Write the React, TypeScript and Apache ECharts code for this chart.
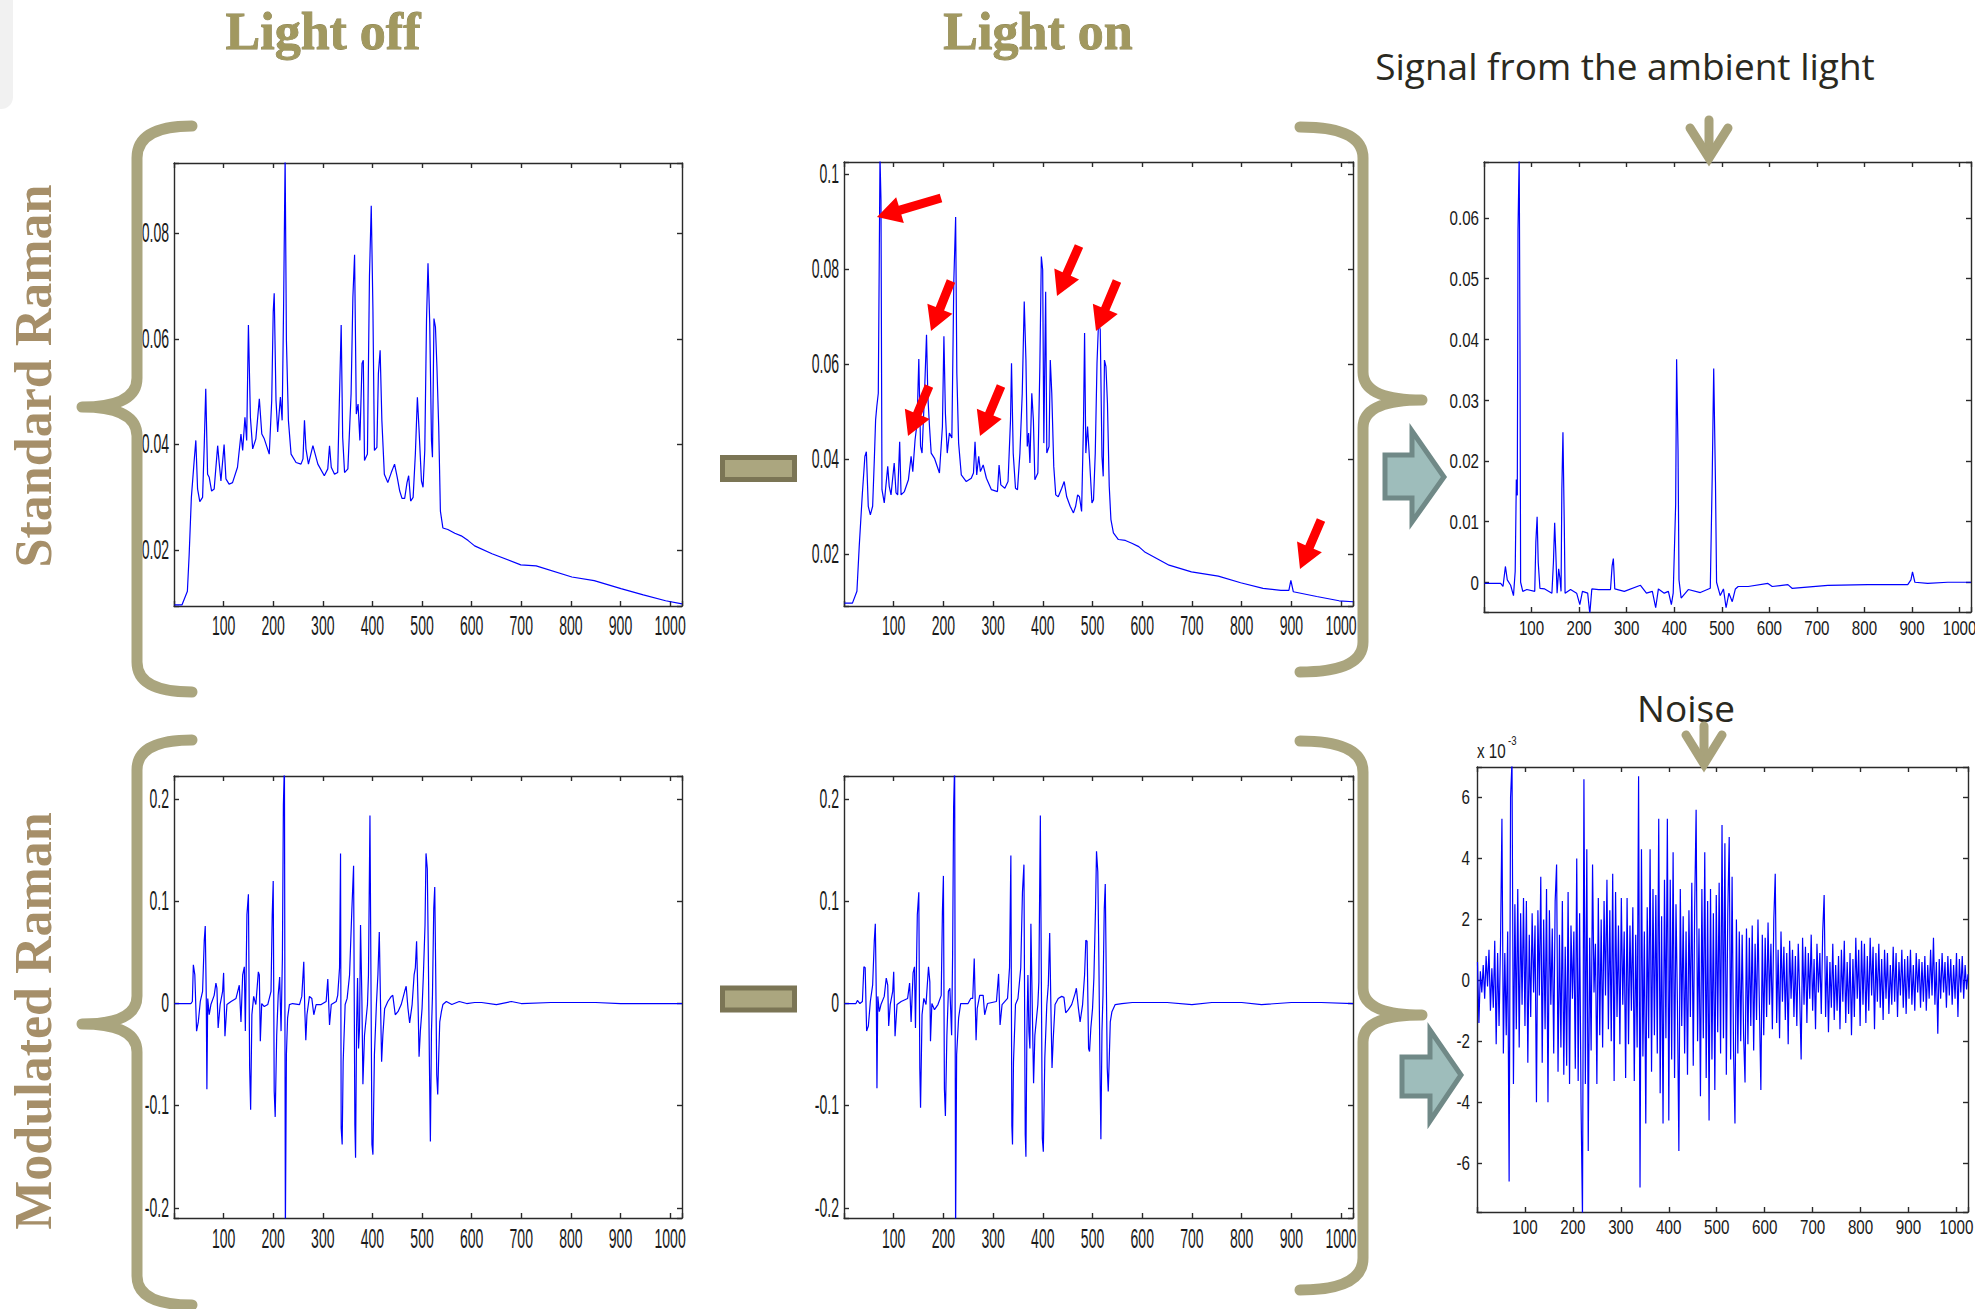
import React, { useEffect, useRef } from "react";
import * as echarts from "echarts";

// ---------------- DATA ----------------
const xTickInterval = 100;
const xMax = 1024;
const xTickLabels = [100, 200, 300, 400, 500, 600, 700, 800, 900, 1000];
const yTickLabels: number[][] = [
  [0.02, 0.04, 0.06, 0.08],
  [0.02, 0.04, 0.06, 0.08, 0.1],
  [0, 0.01, 0.02, 0.03, 0.04, 0.05, 0.06],
  [-0.2, -0.1, 0, 0.1, 0.2],
  [-0.2, -0.1, 0, 0.1, 0.2],
  [-6, -4, -2, 0, 2, 4, 6],
];

const lightOffStd: number[][] = [
  [1,0.0096],[16,0.0096],[27,0.0122],[30.6,0.0192],[35,0.030],[40.7,0.037],[44,0.0408],[47.5,0.0316],[52,0.0292],[57.6,0.030],
  [61,0.040],[64,0.0506],[67.7,0.0344],[71,0.0338],[75.8,0.0312],[81,0.0316],[88,0.0398],[91,0.0366],[94.6,0.0331],[101,0.040],
  [104.7,0.0335],[111,0.0325],[118,0.0328],[128,0.0357],[135,0.042],[138.4,0.0389],[143,0.0452],[146.5,0.0408],[150,0.0627],[154,0.0452],
  [158.6,0.0392],[165,0.0411],[172,0.0487],[177,0.042],[182,0.0411],[192,0.0382],[197,0.0484],[200,0.0652],[202,0.0687],[205.6,0.0484],
  [209,0.0424],[214.5,0.049],[218,0.0446],[221,0.0668],[224,0.0945],[226.6,0.0598],[230.6,0.0446],[236,0.0382],[246,0.0366],[256,0.0363],
  [260,0.0373],[263,0.0446],[266,0.0392],[271,0.0363],[280,0.0398],[290,0.0363],[303,0.0341],[310,0.0354],[313.5,0.0398],[317,0.0357],
  [323.6,0.0344],[330,0.0347],[333.7,0.0497],[337,0.0627],[340,0.0414],[343.8,0.0347],[350.5,0.0354],[357,0.0497],[360.6,0.068],[364,0.076],
  [367.5,0.0458],[371,0.0477],[374.7,0.0408],[379,0.0554],[381.6,0.056],[384,0.037],[389.9,0.0382],[394,0.0719],[397.6,0.0853],[401,0.0655],
  [404,0.0389],[409,0.0395],[412,0.0535],[415.5,0.0579],[419,0.0446],[424,0.0344],[431,0.0328],[438,0.0347],[444.6,0.0363],[450,0.0338],
  [455,0.0312],[459.6,0.0298],[465,0.0298],[469.7,0.0328],[473,0.0341],[477,0.0293],[482,0.030],[486.5,0.0382],[490.6,0.049],[494,0.0427],
  [498.8,0.0331],[502,0.0319],[505.5,0.0389],[509,0.0636],[512,0.0744],[515.5,0.063],[519,0.0408],[521,0.0376],[524,0.0639],[527,0.0623],
  [530,0.0547],[533.6,0.0433],[537,0.0274],[542,0.0242],[552,0.0239],[566,0.0232],[579,0.0227],[593,0.0218],[606,0.0208],[641,0.0193],
  [699,0.0172],[730,0.017],[802,0.0149],[847,0.0142],[901,0.0127],[946,0.0115],[991,0.0104],[1024,0.0098]
];

const lightOnStd: number[][] = [
  [1,0.0096],[17,0.0096],[26,0.0121],[30.6,0.0215],[37,0.0328],[42,0.0405],[45,0.0415],[48.8,0.030],[53,0.0282],[57.6,0.030],
  [61,0.0398],[63.6,0.0482],[66,0.051],[69,0.0538],[70,0.0686],[72.4,0.1035],[74.4,0.0945],[76.4,0.0335],[81,0.0307],[88,0.0384],
  [91,0.0342],[94.6,0.0324],[101,0.0391],[104.7,0.0328],[108,0.0324],[112,0.0436],[114.8,0.0324],[121.5,0.0331],[129.6,0.0356],[135,0.0405],
  [138.4,0.0373],[143,0.044],[147,0.0475],[150.5,0.061],[154,0.0426],[157,0.0412],[162,0.0538],[166,0.0661],[168.7,0.0531],[172,0.0468],
  [175.4,0.0412],[182,0.0401],[192,0.037],[198,0.0468],[201,0.0658],[204,0.0496],[207.7,0.0412],[212,0.0454],[217,0.0444],[221,0.0777],
  [224.6,0.0909],[227,0.058],[230.6,0.0433],[236,0.0366],[246,0.0352],[256,0.0359],[260.5,0.037],[263.6,0.0436],[267,0.0366],[271,0.0405],
  [274.4,0.0373],[280,0.0387],[286.5,0.0359],[296.6,0.0335],[308.7,0.0331],[312,0.0387],[315.5,0.0345],[323.6,0.0338],[330,0.0352],[335,0.0482],
  [337,0.0601],[340.4,0.0412],[345,0.0338],[349,0.0335],[353.9,0.0412],[358.6,0.0538],[362.6,0.0731],[366,0.0608],[368.7,0.0426],[371.4,0.0454],
  [374,0.0391],[377.8,0.0538],[381,0.0482],[384,0.0356],[390,0.037],[394,0.0594],[397,0.0826],[399.7,0.0798],[402,0.0433],[405.7,0.0752],
  [408,0.0412],[412.5,0.0426],[415,0.0608],[418,0.0538],[422,0.0384],[426,0.0324],[431,0.032],[438,0.0338],[443,0.0352],[448,0.032],
  [455,0.030],[461.6,0.0286],[466,0.030],[470,0.0324],[473.7,0.032],[478,0.0289],[481.8,0.0475],[484,0.0665],[486.5,0.0412],[490,0.0468],
  [494,0.0398],[498.8,0.0307],[502,0.0314],[505.5,0.0412],[509,0.0601],[512,0.0686],[515.5,0.0672],[519,0.0405],[521.5,0.0363],[524,0.0608],
  [527,0.0594],[530,0.0517],[533.6,0.0342],[537,0.0272],[542,0.0244],[552,0.023],[566,0.0228],[579,0.0222],[593,0.0215],[606,0.0203],
  [654,0.0176],[699,0.0162],[753,0.0153],[798,0.0139],[843,0.0127],[879,0.0123],[895,0.0123],[899,0.0144],[904,0.012],[951,0.011],
  [996,0.0101],[1024,0.0099]
];

const ambientSignal: number[][] = [
  [1,-0.0002],[35,-0.0002],[40,-0.0007],[45,0.0026],[49,0.0004],[56,-0.0005],[62,-0.0022],[65.6,0.0018],[68,0.0169],[70,0.0143],
  [71.5,0.058],[74,0.0705],[75.7,0.0382],[77,0],[81.5,-0.0015],[90,-0.0012],[106.7,-0.0015],[109,0.0066],[111.7,0.0108],[114,0.0033],
  [117.6,-0.001],[127.7,-0.0011],[142.8,-0.0018],[146,0.0033],[148.6,0.0098],[151,0.0048],[153.7,-0.0018],[157,0.0022],[159.6,0.0007],[162,-0.0015],
  [163.7,0.0154],[166,0.0247],[168.8,0.0095],[170.5,-0.0018],[182,-0.0012],[194.8,-0.0018],[201.5,-0.0037],[207,-0.0015],[218,-0.0018],[222.5,-0.0052],
  [226.7,-0.0011],[241,-0.0012],[266,-0.0012],[269.4,0.0027],[272,0.0039],[275,-0.0011],[295,-0.0015],[329,-0.0005],[341.6,-0.0018],[354,-0.0015],
  [361,-0.0042],[366.7,-0.0011],[379,-0.0018],[387.7,-0.0015],[394,-0.0037],[397.8,-0.0018],[403,0.0128],[405,0.0367],[408,0.0217],[410,0.0004],
  [414.5,-0.0026],[429.6,-0.0012],[454.8,-0.0017],[475.8,-0.001],[480,0.018],[483,0.0352],[486.7,0.0165],[489,0],[496.7,-0.0022],[503.5,-0.0011],
  [509,-0.0042],[515,-0.0018],[522,-0.0032],[528.6,-0.0011],[534.5,-0.0007],[555.5,-0.0007],[597,-0.0002],[606,-0.0007],[639,-0.0004],[647.7,-0.001],
  [723,-0.0005],[807,-0.0004],[891,-0.0004],[897.7,0.0004],[901,0.0017],[906,0],[933,-0.0002],[975,0],[1024,0]
];

const modOff: number[][] = [
  [1,0],[34,0],[37,0.002],[39,0.038],[42,0.028],[45.5,-0.027],[49,-0.018],[53,0.002],[57.6,0.012],[61,0.062],
  [63,0.076],[65,0.008],[66.3,-0.084],[68,0.005],[71,-0.011],[74.4,-0.001],[81,0.008],[84.5,0.020],[86.5,0.015],[89,-0.024],
  [93,-0.001],[98,0.012],[100,0.030],[102.7,-0.032],[106.7,-0.001],[115,0.002],[125,0.005],[131.6,0.018],[135,-0.018],[138.4,0.028],
  [141.8,0.036],[143.8,-0.027],[147,0.087],[150,0.107],[152.5,-0.063],[154.5,-0.104],[157,-0.011],[160.6,0.007],[165,-0.001],[170,0.031],
  [172,0.028],[174,-0.037],[176.8,0],[182,-0.003],[189,-0.001],[195.6,0.012],[198,0.087],[200,0.12],[202,-0.086],[204,-0.111],
  [207,-0.031],[210,0.008],[213,0.026],[215.8,-0.027],[218.5,0.044],[220.5,0.195],[222.6,0.235],[224.5,-0.225],[226.6,-0.05],[229,-0.014],
  [232.6,-0.001],[239,0],[253,-0.001],[257.6,0.007],[261.6,0.041],[263.6,-0.005],[265.7,-0.036],[268,-0.011],[273,0.007],[277.8,0.005],
  [281.8,-0.011],[286.5,-0.001],[296.6,-0.001],[306.7,0.002],[310,0.024],[313.5,-0.021],[317,-0.001],[327,0.002],[330,0.008],[333.7,0.035],
  [335.7,0.147],[337,-0.122],[339,-0.138],[341,-0.057],[345,-0.001],[349,0.005],[353.9,0.028],[358.6,0.093],[362,0.135],[364.6,-0.119],
  [366,-0.151],[368,-0.024],[370,0.025],[372,-0.044],[374,-0.024],[376,0.077],[378.8,0.002],[380.8,-0.079],[384,-0.031],[390,-0.001],
  [392,0.028],[395,0.184],[397,0.028],[399,-0.138],[401,-0.148],[404,-0.05],[408,-0.001],[411,0.028],[413.8,0.07],[416.5,-0.005],
  [418.5,-0.057],[421,-0.031],[424.6,-0.005],[431,0.002],[438,0.007],[441,0.008],[446,-0.011],[451.5,-0.008],[458,-0.001],[465,0.012],
  [468,0.017],[471.7,-0.005],[475,-0.019],[480,-0.001],[484,0.028],[486.5,0.035],[489,0.061],[492,-0.001],[494,-0.052],[496.6,-0.027],
  [500,-0.005],[502.7,0.028],[506,0.077],[508,0.147],[510.6,0.132],[512.8,0.041],[514.8,-0.057],[516.8,-0.135],[519,-0.027],[521,0.008],
  [523.6,0.093],[525.6,0.114],[527.6,0.028],[529.6,-0.07],[531.6,-0.089],[533.7,-0.05],[535.7,-0.018],[539,-0.008],[542,-0.001],[549,0.002],
  [560,-0.001],[575,0.002],[590,0],[606,0.001],[620,0.001],[650,-0.001],[680,0.002],[700,0],[760,0.001],[850,0.001],
  [900,0],[1024,0]
];

const modOn: number[][] = [
  [1,0],[24,0],[27,0.003],[32,0],[37,0.002],[40,0.036],[42.6,0.035],[45.5,-0.027],[49,-0.022],[53,0.002],
  [57.6,0.018],[61,0.062],[63,0.078],[65,0.007],[66.3,-0.083],[68,0.007],[71,-0.008],[74.4,-0.001],[81,0.007],[85,0.025],
  [88,0.018],[89.9,-0.022],[93,-0.001],[98,0.012],[100,0.031],[102.7,-0.032],[106.7,-0.001],[115,0.002],[128,0.005],[132,0.02],
  [135,-0.018],[139,0.03],[141.8,0.036],[143.8,-0.024],[147.5,0.087],[150.5,0.109],[152.5,-0.063],[154,-0.102],[157,-0.011],[160.6,0.005],
  [165,-0.001],[170,0.036],[172.7,0.021],[174,-0.037],[176.8,0],[182,-0.006],[189,-0.001],[195.6,0.008],[198,0.09],[200,0.125],
  [202,-0.084],[204,-0.11],[207,-0.031],[210,0.012],[213,0.015],[216.5,-0.031],[218.5,0.048],[220.5,0.192],[222.6,0.235],[224.5,-0.225],
  [226.6,-0.05],[230.6,-0.014],[234.7,0],[249.6,0],[255,0.005],[259,0.005],[262,0.044],[264.3,-0.005],[265.7,-0.036],[268,-0.005],
  [273,0.008],[280,0.008],[283,-0.011],[288.6,0],[306.7,0.002],[311,0.029],[314,-0.021],[318,-0.001],[329,0.005],[333,0.035],
  [335.7,0.145],[337.7,-0.12],[339,-0.138],[341,-0.057],[345,-0.001],[350,0.005],[355.6,0.035],[359,0.109],[362,0.136],[364.6,-0.128],
  [366,-0.15],[368,-0.027],[370,0.028],[372,-0.027],[374,-0.044],[376,0.078],[378.8,-0.005],[381.4,-0.078],[384,-0.031],[390,-0.001],
  [392,0.021],[395,0.184],[397,0.028],[399,-0.132],[401,-0.145],[404,-0.053],[408,-0.001],[411,0.018],[413.8,0.069],[416.5,-0.011],
  [418.5,-0.063],[421,-0.034],[424.6,-0.001],[431,0.005],[438,0.007],[442.5,0.006],[446,-0.009],[451.5,-0.006],[458,-0.001],[465,0.01],
  [467.5,0.015],[471.7,-0.005],[475,-0.018],[480,-0.001],[484,0.028],[486.5,0.062],[489,0.061],[492,-0.044],[494,-0.047],[496.6,-0.024],
  [500,-0.005],[502.7,0.025],[506,0.093],[508,0.149],[510.6,0.129],[512.8,0.041],[514.8,-0.057],[516.8,-0.133],[519,-0.027],[521,0.008],
  [523.6,0.093],[525.6,0.117],[527.6,0.028],[529.6,-0.063],[531.6,-0.086],[533.7,-0.053],[535.7,-0.018],[539,-0.008],[545.6,-0.001],[559,0],
  [580,0.001],[606,0.001],[650,0.001],[700,-0.001],[740,0.001],[800,0.001],[840,-0.001],[900,0.001],[960,0.001],[1024,0]
];

// noise (units of 1e-3), sampled every 3 channels starting at channel 1
const noiseStep = 3;
const noiseY: number[] = [
  0.6,-1.4,0.3,-0.4,0.5,-0.6,0.8,-0.2,1.0,-1.0,
  0.4,-0.9,1.3,-2.1,0.9,-1.5,1.2,5.3,-2.4,0.9,
  -1.8,1.6,-6.6,6.0,7.2,-3.4,2.5,-1.6,3.0,-2.2,
  2.2,-0.8,2.7,-1.5,2.6,-2.7,1.5,-1.2,2.2,-0.4,
  1.8,-4.0,2.3,-0.5,3.4,-2.7,2.0,-1.6,3.0,-4.0,
  2.3,-0.8,1.7,-2.4,2.6,3.8,-3.0,1.5,-2.2,2.6,
  -3.1,1.1,-2.8,2.9,-3.4,1.8,-0.6,1.6,-2.9,4.0,
  -3.3,2.2,-4.1,-7.8,6.6,-3.4,4.3,-5.6,1.4,-2.3,
  3.8,-0.4,1.2,-3.4,2.7,-1.8,2.0,-2.2,2.6,-0.5,
  3.3,-1.6,2.3,-2.0,3.5,-3.3,2.9,-1.2,1.8,-2.1,
  2.7,-0.8,1.6,-3.2,2.7,-2.1,1.8,-1.0,2.4,-3.3,
  1.5,-2.2,6.7,-6.8,4.3,-2.5,1.6,-4.7,2.4,-1.9,
  4.3,-3.0,3.0,-1.8,2.8,-2.4,5.3,-3.7,2.1,-4.7,
  3.3,-1.9,5.3,-4.6,3.3,-2.6,4.2,-3.2,2.5,-0.8,
  -5.6,3.0,-1.5,2.1,-2.4,1.6,-3.1,2.3,-1.2,3.2,
  -2.8,2.4,5.6,-2.0,1.7,-3.8,3.0,-1.9,4.2,-3.2,
  2.6,-4.6,3.0,-2.6,2.2,-3.6,2.8,-1.7,3.2,-2.4,
  5.1,-1.9,4.5,-3.1,2.2,4.7,-2.6,3.4,-2.3,-4.7,
  2.0,-2.4,1.6,-2.0,1.5,-1.8,-3.35,1.7,-2.1,1.4,
  -1.5,1.8,-2.3,1.2,-1.3,2.0,-0.9,-3.6,1.5,-1.8,
  1.4,-1.2,1.9,-0.8,1.2,-1.6,2.0,3.5,-1.4,1.0,
  -1.9,1.6,-0.7,1.1,-1.3,0.9,-2.1,1.3,-0.6,1.0,
  -1.2,0.8,-1.5,1.2,-0.5,-2.6,1.4,-0.8,1.1,-1.4,
  0.9,-0.6,1.5,-1.0,0.7,-1.6,1.2,-0.4,0.9,-1.1,
  1.6,2.8,-1.2,0.8,-1.7,0.6,-0.9,1.2,-1.3,0.5,
  -1.0,0.8,-1.6,1.0,-0.7,1.3,-1.4,0.6,-1.1,0.9,
  -1.8,0.7,-1.2,1.4,-0.6,1.0,-1.5,1.3,-0.8,1.2,
  -1.4,0.8,-1.0,1.4,-0.5,1.1,-1.6,0.9,-0.7,1.2,
  -0.9,0.7,-1.3,1.0,-0.6,0.9,-1.1,0.5,-0.8,1.1,
  -0.7,0.9,-1.2,0.6,-0.5,1.0,-0.9,0.7,-1.1,0.8,
  -0.6,1.0,-0.8,0.5,-1.0,0.9,-0.4,0.7,-0.9,0.6,
  -0.7,0.8,-1.0,0.5,-0.6,1.0,-0.5,1.4,-0.8,0.6,
  -1.75,0.7,-0.6,0.9,-0.4,0.6,-0.9,0.8,-0.5,0.7,
  -0.8,0.5,-0.6,0.9,-1.2,0.7,-0.4,0.8,-0.6,0.5,-0.3,0.2
];

const yRanges = [
  [0.0094, 0.0934],
  [0.009, 0.1025],
  [-0.0049, 0.0692],
  [-0.21, 0.2228],
  [-0.21, 0.2228],
  [-7.6, 7.0],
];
const ySplits = [5, 5, 7, 5, 5, 7];

// ---------------- LAYOUT / STYLE ----------------
const layouts = [
  { left: 174, top: 163, width: 508, height: 443 },
  { left: 844, top: 162, width: 509, height: 444 },
  { left: 1484, top: 162, width: 487, height: 450 },
  { left: 174, top: 776, width: 508, height: 442 },
  { left: 844, top: 776, width: 509, height: 442 },
  { left: 1477, top: 767, width: 491, height: 445 },
];
// MATLAB-like condensed tick labels
const labelStyles = [
  { size: 27, sx: 0.52, xOff: 20, yGap: 5 },
  { size: 27, sx: 0.52, xOff: 20, yGap: 5 },
  { size: 21, sx: 0.72, xOff: 16, yGap: 5 },
  { size: 27, sx: 0.52, xOff: 21, yGap: 5 },
  { size: 27, sx: 0.52, xOff: 21, yGap: 5 },
  { size: 20, sx: 0.76, xOff: 15, yGap: 7 },
];

const labelFont = "'Liberation Sans', Arial, Helvetica, sans-serif";
const axisColor = "#2a2a2a";
const khaki = "#aaa57e";
const titleColor = "#a1985f";
const sideColor = "#a68f69";

echarts.graphic.registerShape("braceL1", echarts.graphic.extendPath(
  "M192 126 Q137 126 137 158 L137 378 Q137 407 82 407 Q137 407 137 436 L137 662 Q137 692 192 692", {}));
echarts.graphic.registerShape("braceL2", echarts.graphic.extendPath(
  "M192 740 Q137 740 137 770 L137 996 Q137 1024 82 1024 Q137 1024 137 1052 L137 1276 Q137 1305 192 1305", {}));
echarts.graphic.registerShape("braceR1", echarts.graphic.extendPath(
  "M1300 127 Q1363 127 1363 158 L1363 372 Q1363 400 1422 400 Q1363 400 1363 428 L1363 642 Q1363 672 1300 672", {}));
echarts.graphic.registerShape("braceR2", echarts.graphic.extendPath(
  "M1300 741 Q1363 741 1363 772 L1363 988 Q1363 1015 1422 1015 Q1363 1015 1363 1042 L1363 1258 Q1363 1290 1300 1290", {}));

const redArrows = [
  [[941, 198], [877, 217]],
  [[951, 281], [931, 331]],
  [[929, 386], [908, 436]],
  [[1001, 386], [980, 436]],
  [[1079, 246], [1057, 296]],
  [[1117, 281], [1096, 331]],
  [[1321, 520], [1300, 569]],
];

function arrowPoly(tail: number[], tip: number[], sw = 9, hw = 27, hl = 24) {
  const dx = tip[0] - tail[0], dy = tip[1] - tail[1];
  const len = Math.hypot(dx, dy);
  const ux = dx / len, uy = dy / len;
  const nx = -uy, ny = ux;
  const bx = tip[0] - ux * hl, by = tip[1] - uy * hl;
  return [
    [tail[0] + nx * sw / 2, tail[1] + ny * sw / 2],
    [bx + nx * sw / 2, by + ny * sw / 2],
    [bx + nx * hw / 2, by + ny * hw / 2],
    [tip[0], tip[1]],
    [bx - nx * hw / 2, by - ny * hw / 2],
    [bx - nx * sw / 2, by - ny * sw / 2],
    [tail[0] - nx * sw / 2, tail[1] - ny * sw / 2],
  ];
}

export default function App() {
  const ref = useRef<HTMLDivElement>(null);

  useEffect(() => {
    if (!ref.current) return;
    const chart = echarts.init(ref.current, null, { renderer: "svg" });

    const seriesData = [
      lightOffStd,
      lightOnStd,
      ambientSignal,
      modOff,
      modOn,
      noiseY.map((v, i) => [1 + noiseStep * i, v]),
    ];

    const grid = layouts.map((l) => ({
      left: l.left, top: l.top, width: l.width, height: l.height,
      containLabel: false, outerBoundsMode: "none", show: false,
    }));

    const lineStyle = { color: axisColor, width: 1.4 };
    const xAxis: any[] = [];
    const yAxis: any[] = [];
    layouts.forEach((l, g) => {
      const xc = {
        type: "value", gridIndex: g, min: 0, max: xMax, interval: xTickInterval,
        splitLine: { show: false },
        axisLine: { show: true, onZero: false, lineStyle },
        axisTick: { show: true, inside: true, length: 5, lineStyle },
        axisLabel: { show: false },
      };
      xAxis.push({ ...xc, position: "bottom" });
      xAxis.push({ ...xc, position: "top" });
      const yc = {
        type: "value", gridIndex: g, min: yRanges[g][0], max: yRanges[g][1], splitNumber: ySplits[g],
        splitLine: { show: false },
        axisLine: { show: true, onZero: false, lineStyle },
        axisTick: { show: true, inside: true, length: 5, lineStyle },
        axisLabel: { show: false },
      };
      yAxis.push({ ...yc, position: "left" });
      yAxis.push({ ...yc, position: "right" });
    });

    const series = seriesData.map((d, g) => ({
      type: "line", xAxisIndex: 2 * g, yAxisIndex: 2 * g, data: d,
      showSymbol: false, symbol: "none", silent: true, clip: true,
      lineStyle: { color: "#0000ff", width: 1.2 },
      itemStyle: { color: "#0000ff" },
    }));

    chart.setOption({
      animation: false,
      backgroundColor: "#ffffff",
      grid, xAxis, yAxis, series,
    });

    // tick labels placed through the axes' own scales
    const tickTexts: any[] = [];
    layouts.forEach((l, g) => {
      const ls = labelStyles[g];
      const font = `${ls.size}px ${labelFont}`;
      xTickLabels.forEach((v) => {
        const px = chart.convertToPixel({ xAxisIndex: 2 * g } as any, v) as unknown as number;
        tickTexts.push({
          type: "text", z: 5, x: px, y: l.top + l.height + ls.xOff, scaleX: ls.sx,
          style: { text: String(v), font, fill: "#1a1a1a", align: "center", verticalAlign: "middle" },
        });
      });
      yTickLabels[g].forEach((v) => {
        const py = chart.convertToPixel({ yAxisIndex: 2 * g } as any, v) as unknown as number;
        tickTexts.push({
          type: "text", z: 5, x: l.left - ls.yGap, y: py, scaleX: ls.sx,
          style: { text: String(v), font, fill: "#1a1a1a", align: "right", verticalAlign: "middle" },
        });
      });
    });

    const braceStyle = { fill: "none", stroke: khaki, lineWidth: 11, lineCap: "round", lineJoin: "round" };
    const downArrowStyle = { fill: "none", stroke: "#a8a27b", lineWidth: 9, lineCap: "round", lineJoin: "miter" };
    const blockStyle = { fill: "#9ebdbb", stroke: "#708987", lineWidth: 5, lineJoin: "miter" };
    const minusStyle = { fill: "#aba67f", stroke: "#7b7555", lineWidth: 5 };
    const serifBold = "bold 52px 'Liberation Serif', 'DejaVu Serif', serif";
    const titleShadow = { shadowColor: "rgba(70,62,30,0.45)", shadowOffsetX: 2, shadowOffsetY: 2, shadowBlur: 2 };

    const graphic: any[] = [
      { type: "rect", z: 1, shape: { x: 0, y: 0, width: 13, height: 109, r: [0, 0, 12, 0] }, style: { fill: "#f1f1f1" } },
      // titles
      { type: "text", z: 10, x: 323, y: 31, style: { text: "Light off", font: serifBold, fill: titleColor, stroke: "#8a8150", lineWidth: 0.8, align: "center", verticalAlign: "middle", ...titleShadow } },
      { type: "text", z: 10, x: 1038, y: 31, style: { text: "Light on", font: serifBold, fill: titleColor, stroke: "#8a8150", lineWidth: 0.8, align: "center", verticalAlign: "middle", ...titleShadow } },
      { type: "text", z: 10, x: 33, y: 376, rotation: Math.PI / 2, style: { text: "Standard Raman", font: serifBold, fill: sideColor, align: "center", verticalAlign: "middle" } },
      { type: "text", z: 10, x: 33, y: 1021, rotation: Math.PI / 2, style: { text: "Modulated Raman", font: serifBold, fill: sideColor, align: "center", verticalAlign: "middle" } },
      { type: "text", z: 10, x: 1625, y: 65, style: { text: "Signal from the ambient light", font: "37px 'Open Sans', 'Noto Sans', sans-serif", fill: "#2a2920", align: "center", verticalAlign: "middle" } },
      { type: "text", z: 10, x: 1686, y: 707, style: { text: "Noise", font: "37px 'Open Sans', 'Noto Sans', sans-serif", fill: "#2a2920", align: "center", verticalAlign: "middle" } },
      { type: "text", z: 10, x: 1477, y: 751, scaleX: 0.76, style: { text: "x 10", font: `20px ${labelFont}`, fill: "#1a1a1a", align: "left", verticalAlign: "middle" } },
      { type: "text", z: 10, x: 1508, y: 741, scaleX: 0.8, style: { text: "-3", font: `12px ${labelFont}`, fill: "#1a1a1a", align: "left", verticalAlign: "middle" } },
      // braces
      { type: "braceL1", z: 20, style: braceStyle },
      { type: "braceL2", z: 20, style: braceStyle },
      { type: "braceR1", z: 20, style: braceStyle },
      { type: "braceR2", z: 20, style: braceStyle },
      // minus signs
      { type: "rect", z: 20, shape: { x: 722.5, y: 457.5, width: 72, height: 22 }, style: minusStyle },
      { type: "rect", z: 20, shape: { x: 722.5, y: 988, width: 72, height: 22 }, style: minusStyle },
      // block arrows
      { type: "polygon", z: 20, shape: { points: [[1385, 455], [1412, 455], [1412, 431], [1444, 477], [1412, 522], [1412, 498], [1385, 498]] }, style: blockStyle },
      { type: "polygon", z: 20, shape: { points: [[1402, 1057], [1430, 1057], [1430, 1030], [1461, 1075], [1430, 1121], [1430, 1096], [1402, 1096]] }, style: blockStyle },
      // down arrows
      { type: "polyline", z: 20, shape: { points: [[1709, 120], [1709, 152]] }, style: downArrowStyle },
      { type: "polyline", z: 20, shape: { points: [[1690, 128], [1709, 158], [1728, 128]] }, style: downArrowStyle },
      { type: "polyline", z: 20, shape: { points: [[1704, 726], [1704, 758]] }, style: downArrowStyle },
      { type: "polyline", z: 20, shape: { points: [[1686, 735], [1704, 764], [1722, 735]] }, style: downArrowStyle },
      // red arrows
      ...redArrows.map(([tail, tip]) => ({
        type: "polygon", z: 30, shape: { points: arrowPoly(tail, tip) }, style: { fill: "#ff0000" },
      })),
      ...tickTexts,
    ];

    chart.setOption({ graphic });

    return () => chart.dispose();
  }, []);

  return (
    <div
      ref={ref}
      style={{ position: "absolute", left: 0, top: 0, width: 1975, height: 1309, background: "#fff" }}
    />
  );
}
